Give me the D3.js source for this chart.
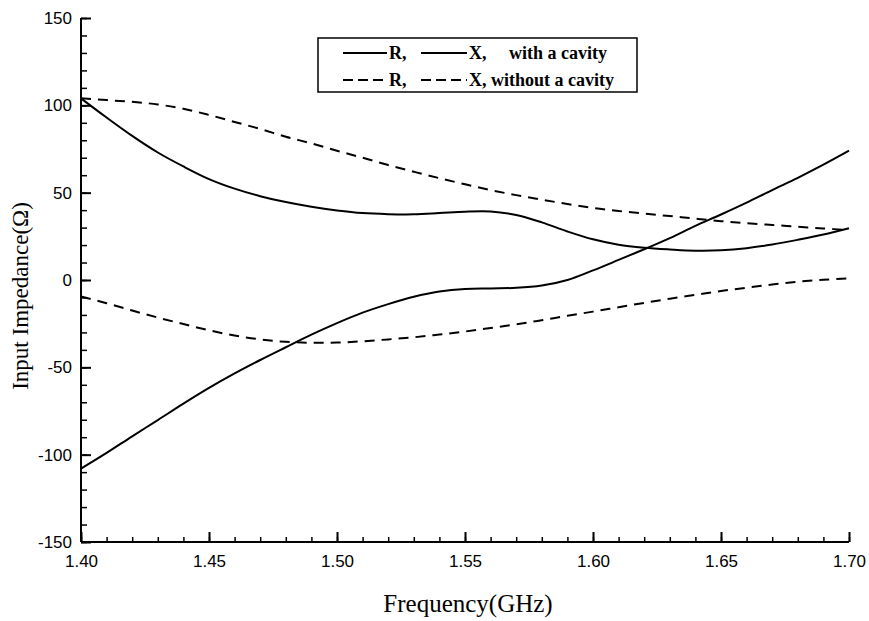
<!DOCTYPE html>
<html>
<head>
<meta charset="utf-8">
<script src="https://cdn.jsdelivr.net/npm/d3@7"></script>
<style>
  body { margin: 0; background: #fff; }
  svg { display: block; }
  .tick text { font-family: "Liberation Sans", Arial, sans-serif; font-size: 17px; fill: #000; }
  .serif { font-family: "Liberation Serif", "Times New Roman", serif; fill: #000; }
</style>
</head>
<body>
<svg width="869" height="621"></svg>
<script>
// frequency points (GHz)
let freq = [1.40, 1.41, 1.42, 1.43, 1.44, 1.45, 1.46, 1.47, 1.48, 1.49, 1.50,
            1.51, 1.52, 1.53, 1.54, 1.55, 1.56, 1.57, 1.58, 1.59, 1.60,
            1.61, 1.62, 1.63, 1.64, 1.65, 1.66, 1.67, 1.68, 1.69, 1.70];

// with a cavity
let rWith = [104, 93, 82.5, 73, 65, 57.8, 52.3, 48, 44.6, 41.9, 39.8,
             38.3, 37.7, 37.6, 38.3, 39.1, 39.2, 37.2, 33, 27.8, 23.3,
             20.2, 18.5, 17.5, 16.8, 17, 18.2, 20.3, 23, 26, 29.6];
let xWith = [-108, -99, -89.5, -80.2, -70.8, -61.8, -53.5, -45.8, -38.5, -31.3, -24.7,
             -18.7, -13.8, -9.6, -6.6, -5.1, -4.8, -4.5, -3.2, 0, 5.5,
             11.5, 17.6, 24, 31, 37.5, 44.3, 51.5, 58.5, 66, 74];

// without a cavity
let rWithout = [104, 103, 102, 100.5, 98, 94.5, 90.5, 86.5, 82, 78.2, 74,
                70, 65.8, 62, 58.3, 54.8, 51.5, 48.6, 46, 43.5, 41.2,
                39.5, 38, 36.6, 35.1, 33.7, 32.5, 31.5, 30.5, 29.5, 28.6];
let xWithout = [-9.5, -13.3, -17.5, -21.5, -25.2, -28.8, -31.8, -34, -35.4, -35.9, -35.8,
                -35.1, -34, -32.8, -31.2, -29.5, -27.5, -25.4, -23, -20.5, -18.1,
                -15.6, -13.1, -10.7, -8.5, -6.3, -4.4, -2.6, -1, 0.1, 1];

let xTicks = [1.40, 1.45, 1.50, 1.55, 1.60, 1.65, 1.70];
let yTicks = [-150, -100, -50, 0, 50, 100, 150];

let svg = d3.select('svg');

let x = d3.scaleLinear().domain([1.40, 1.70]).range([81, 849]);
let y = d3.scaleLinear().domain([-150, 150]).range([542, 18]);

// minor ticks
let xMinor = svg.append('g')
    .attr('transform', 'translate(0,542)')
    .call(d3.axisBottom(x).tickValues(d3.range(0, 31).map(function (i) { return 1.40 + i * 0.01; })).tickSize(-5).tickFormat(''));
xMinor.select('.domain').remove();
xMinor.selectAll('.tick line').attr('y1', 0).attr('y2', -5).attr('stroke', '#000').attr('stroke-width', 1.5);

let yMinor = svg.append('g')
    .attr('transform', 'translate(81,0)')
    .call(d3.axisLeft(y).tickValues(d3.range(-150, 151, 10)).tickSize(-5).tickFormat(''));
yMinor.select('.domain').remove();
yMinor.selectAll('.tick line').attr('x1', 0).attr('x2', 6).attr('stroke', '#000').attr('stroke-width', 1.5);

// major axes
let xAxis = svg.append('g')
    .attr('transform', 'translate(0,542)')
    .call(d3.axisBottom(x).tickValues(xTicks).tickSize(-10).tickPadding(13).tickFormat(d3.format('.2f')));
xAxis.selectAll('.tick line').attr('y1', 0).attr('y2', -10).attr('stroke', '#000').attr('stroke-width', 2);
xAxis.select('.domain').attr('d', 'M81,0H849').attr('stroke', '#000').attr('stroke-width', 2);

let yAxis = svg.append('g')
    .attr('transform', 'translate(81,0)')
    .call(d3.axisLeft(y).tickValues(yTicks).tickSize(-10).tickPadding(9).tickFormat(function (d) { return String(d); }));
yAxis.selectAll('.tick line').attr('x1', 0).attr('x2', 10).attr('stroke', '#000').attr('stroke-width', 2);
yAxis.select('.domain').attr('d', 'M0,18V542').attr('stroke', '#000').attr('stroke-width', 2);

// curves
let series = [
    { values: rWith, dash: null },
    { values: xWith, dash: null },
    { values: rWithout, dash: '10,7' },
    { values: xWithout, dash: '10,7' }
];

let line = d3.line()
    .x(function (d) { return x(d[0]); })
    .y(function (d) { return y(d[1]); })
    .curve(d3.curveCatmullRom.alpha(0.5));

svg.append('g')
    .selectAll('path')
    .data(series)
    .join('path')
    .attr('d', function (s) { return line(freq.map(function (f, i) { return [f, s.values[i]]; })); })
    .attr('fill', 'none')
    .attr('stroke', '#000')
    .attr('stroke-width', 2)
    .attr('stroke-dasharray', function (s) { return s.dash; });

// legend
let legend = svg.append('g');
legend.append('rect')
    .attr('x', 318).attr('y', 38).attr('width', 319).attr('height', 54)
    .attr('fill', '#fff').attr('stroke', '#000').attr('stroke-width', 1.5);

let rows = [
    { y: 53, dash: null, texts: [[389, 'R,'], [469, 'X,'], [509, 'with a cavity']] },
    { y: 80, dash: '10,5', texts: [[389, 'R,'], [469, 'X, without a cavity']] }
];
rows.forEach(function (r) {
    [[343, 387], [421, 467]].forEach(function (seg) {
        legend.append('line')
            .attr('x1', seg[0]).attr('x2', seg[1])
            .attr('y1', r.y).attr('y2', r.y)
            .attr('stroke', '#000').attr('stroke-width', 2)
            .attr('stroke-dasharray', r.dash);
    });
    r.texts.forEach(function (t) {
        legend.append('text')
            .attr('class', 'serif')
            .attr('x', t[0]).attr('y', r.y + 6)
            .attr('font-size', 18)
            .attr('font-weight', 'bold')
            .text(t[1]);
    });
});

// axis titles
svg.append('text')
    .attr('class', 'serif')
    .attr('x', 468).attr('y', 612)
    .attr('text-anchor', 'middle')
    .attr('font-size', 25)
    .text('Frequency(GHz)');
svg.append('text')
    .attr('class', 'serif')
    .attr('transform', 'translate(28,296) rotate(-90)')
    .attr('text-anchor', 'middle')
    .attr('font-size', 23)
    .text('Input Impedance(Ω)');
</script>
</body>
</html>
